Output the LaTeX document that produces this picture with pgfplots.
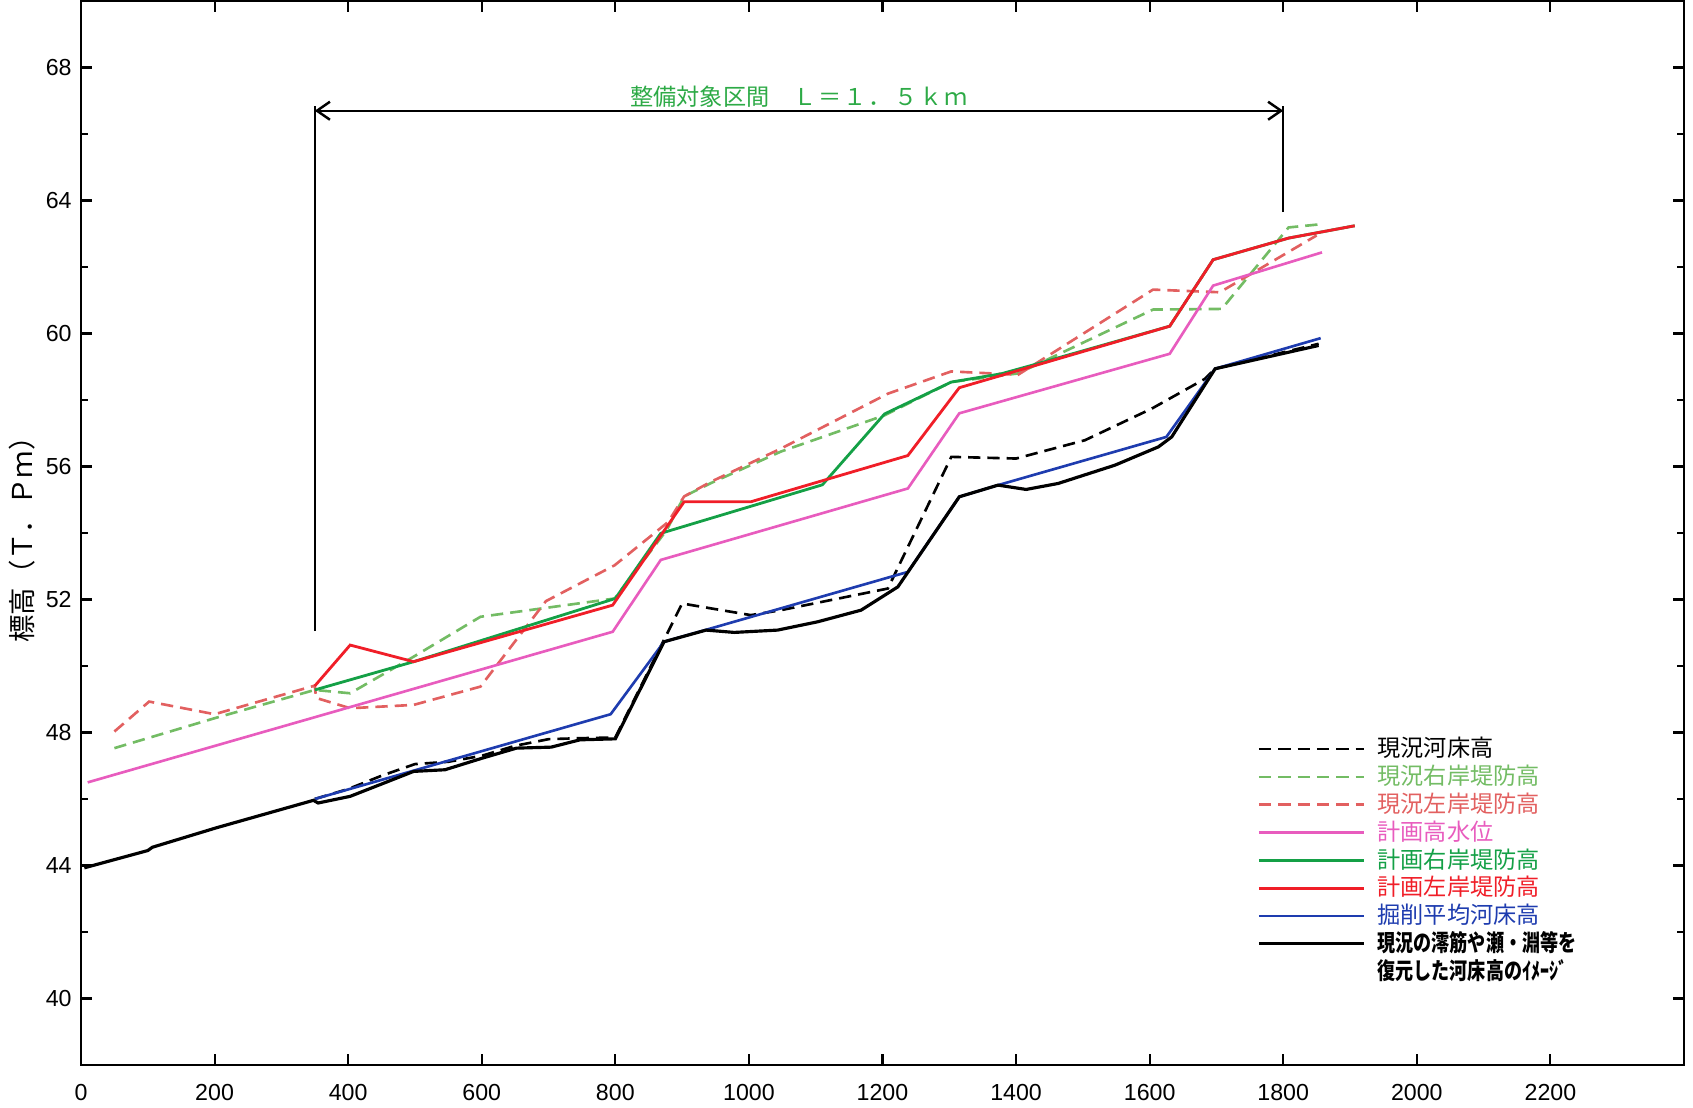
\documentclass[border=0pt]{standalone}
\usepackage{fontspec}
\setmainfont{Liberation Sans}
\newfontfamily\jp{Noto Sans CJK JP}
\usepackage{pgfplots}
\pgfplotsset{compat=1.18}
\usetikzlibrary{arrows.meta}
\definecolor{cGd}{RGB}{115,188,100}
\definecolor{cRd}{RGB}{226,96,96}
\definecolor{cPk}{RGB}{232,92,190}
\definecolor{cGs}{RGB}{20,160,70}
\definecolor{cRs}{RGB}{240,30,40}
\definecolor{cBl}{RGB}{30,60,175}
\definecolor{cTitle}{RGB}{45,170,70}
\begin{document}
\begin{tikzpicture}
\begin{axis}[
  scale only axis, width=16.03cm, height=10.64cm,
  xmin=0, xmax=2400, ymin=38, ymax=70,
  xtick={0,200,...,2200}, ytick={40,44,...,68}, minor ytick={42,46,...,66},
  tick align=inside, major tick length=0.11cm, minor tick length=0.07cm,
  axis line style={line width=0.7pt},
  every tick/.style={black, line width=0.6pt},
  /pgf/number format/assume math mode=true, /pgf/number format/1000 sep={},
  scaled x ticks=false, scaled y ticks=false,
  tick label style={font=\fontsize{6.6}{7}\selectfont},
  xticklabel style={yshift=-0.07cm},
  yticklabel style={xshift=0.03cm},
  ylabel={\jp\fontsize{7.8}{8}\selectfont 標高（Ｔ．Ｐｍ）},
  ylabel style={at={(axis description cs:-0.0368,0.5)}, anchor=center},
  legend style={draw=none, fill=none, inner sep=0pt, at={(0.7334,0.3081)}, anchor=north west,
    row sep=0.053cm, column sep=0.12cm, font=\jp\fontsize{6.6}{7}\selectfont,
    nodes={inner sep=0pt, text height=0.19cm, text depth=0.035cm, anchor=west}},
  legend cell align=left,
  legend image code/.code={\draw[#1] (0cm,0cm) -- (1.05cm,0cm);},
]
% 現況河床高
\addplot[black, line width=0.75pt, dash pattern=on 3.5pt off 2pt] coordinates {
(350,46.0) (400,46.3) (450,46.7) (500,47.05) (550,47.12) (600,47.3) (650,47.6) (700,47.8) (750,47.83) (800,47.85)
(900,51.88) (1003,51.53) (1048,51.68) (1208,52.33) (1303,56.29) (1400,56.24) (1503,56.79) (1603,57.74) (1683,58.64) (1698,58.94) (1853,59.69)};
\addlegendentry{現況河床高}
% 現況右岸堤防高
\addplot[cGd, line width=0.75pt, dash pattern=on 3.5pt off 2pt] coordinates {
(50,47.53) (200,48.43) (350,49.28) (403,49.18) (498,50.28) (598,51.48) (799,52.03) (877,54.09) (903,55.1) (943,55.5)
(1048,56.45) (1203,57.54) (1303,58.54) (1403,58.8) (1605,60.72) (1708,60.74) (1808,63.19) (1858,63.29)};
\addlegendentry{\textcolor{cGd}{現況右岸堤防高}}
% 現況左岸堤防高
\addplot[cRd, line width=0.75pt, dash pattern=on 3.5pt off 2pt] coordinates {
(50,48.03) (102,48.93) (200,48.55) (350,49.41) (352,49.04) (403,48.73) (498,48.83) (598,49.38) (696,51.95) (799,53.03)
(879,54.33) (903,55.1) (943,55.54) (1048,56.54) (1208,58.19) (1303,58.86) (1403,58.76) (1605,61.32) (1705,61.24) (1850,62.95)};
\addlegendentry{\textcolor{cRd}{現況左岸堤防高}}
% 計画高水位
\addplot[cPk, line width=0.75pt] coordinates {
(10,46.5) (796,51.03) (868,53.19) (1238,55.34) (1315,57.6) (1630,59.39) (1695,61.44) (1858,62.44)};
\addlegendentry{\textcolor{cPk}{計画高水位}}
% 計画右岸堤防高
\addplot[cGs, line width=0.8pt] coordinates {
(350,49.28) (498,50.13) (800,52.03) (868,53.99) (1110,55.45) (1203,57.58) (1303,58.54) (1378,58.79) (1423,59.04)
(1630,60.22) (1695,62.22) (1808,62.87) (1907,63.24)};
\addlegendentry{\textcolor{cGs}{計画右岸堤防高}}
% 計画左岸堤防高
\addplot[cRs, line width=0.8pt] coordinates {
(350,49.4) (403,50.63) (498,50.13) (796,51.83) (903,54.94) (1003,54.94) (1238,56.33) (1315,58.37) (1630,60.22)
(1695,62.22) (1808,62.87) (1907,63.24)};
\addlegendentry{\textcolor{cRs}{計画左岸堤防高}}
% 掘削平均河床高
\addplot[cBl, line width=0.75pt] coordinates {
(350,46.0) (793,48.55) (873,50.73) (943,51.13) (1238,52.83) (1315,55.09) (1373,55.44) (1625,56.89) (1698,58.94) (1856,59.86)};
\addlegendentry{\textcolor{cBl}{掘削平均河床高}}
% イメージ
\addplot[black, line width=0.9pt] coordinates {
(5,43.93) (100,44.45) (107,44.55) (202,45.13) (348,45.96) (355,45.88) (403,46.08) (450,46.45) (498,46.83) (545,46.88)
(601,47.23) (652,47.53) (704,47.56) (747,47.78) (800,47.81) (873,50.73) (936,51.08) (978,51.01) (1043,51.08) (1103,51.33)
(1168,51.68) (1223,52.38) (1315,55.09) (1373,55.44) (1415,55.31) (1463,55.49) (1548,56.04) (1613,56.59) (1633,56.89)
(1698,58.94) (1853,59.64)};
\addlegendentry{\scalebox{0.78}[1]{\bfseries 現況の澪筋や瀬・淵等を}}
\addlegendimage{empty legend}
\addlegendentry{\scalebox{0.78}[1]{\bfseries 復元した河床高のｲﾒｰｼﾞ}}
% annotation
\draw[line width=0.7pt] (axis cs:350,51.05) -- (axis cs:350,66.85);
\draw[line width=0.7pt] (axis cs:1800,63.65) -- (axis cs:1800,66.85);
\draw[line width=0.7pt, {Straight Barb[length=1.3mm,width=1.8mm]}-{Straight Barb[length=1.3mm,width=1.8mm]}]
  (axis cs:350,66.7) -- (axis cs:1800,66.7);
\node[text=cTitle, font=\jp\fontsize{6.6}{7}\selectfont] at (axis cs:1075,67.13)
  {整備対象区間\hspace{0.24cm}Ｌ\hspace{0.02cm}＝\hspace{0.02cm}１\hspace{0.02cm}．\hspace{0.02cm}５\hspace{0.02cm}ｋ\hspace{0.02cm}ｍ};
\end{axis}
\pgfresetboundingbox
\path[use as bounding box] (-0.81cm,-0.42cm) rectangle (16.12cm,10.65cm);
\end{tikzpicture}
\end{document}
